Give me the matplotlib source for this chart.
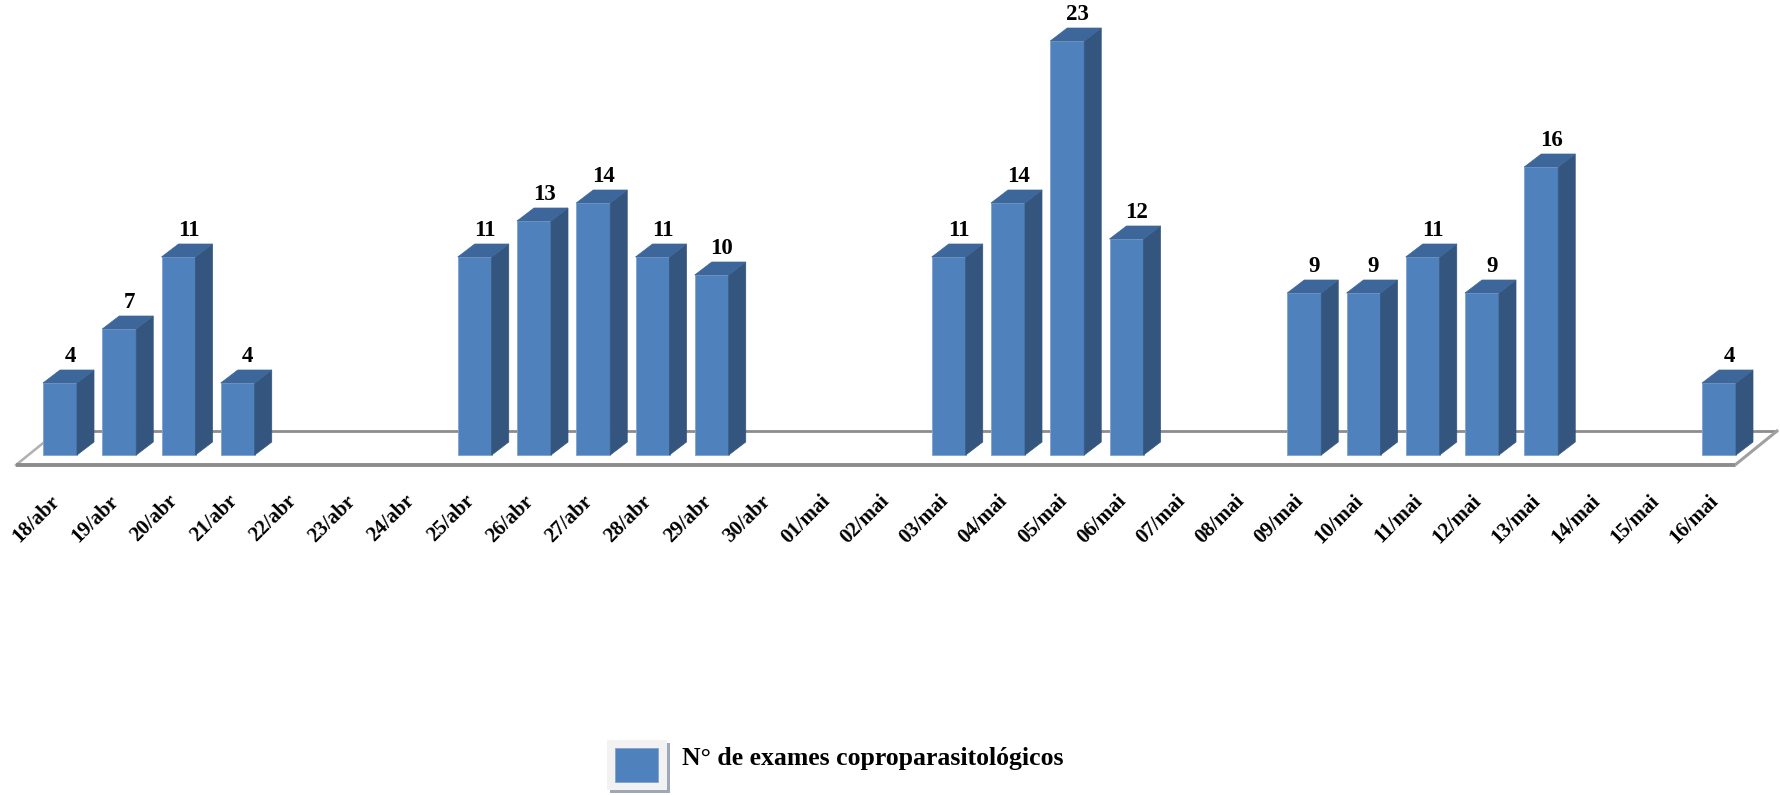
import matplotlib
matplotlib.use("Agg")
import matplotlib.pyplot as plt
from matplotlib.patches import Polygon, Rectangle
import numpy as np

# ---- data ----
categories = ["18/abr", "19/abr", "20/abr", "21/abr", "22/abr", "23/abr", "24/abr",
              "25/abr", "26/abr", "27/abr", "28/abr", "29/abr", "30/abr",
              "01/mai", "02/mai", "03/mai", "04/mai", "05/mai", "06/mai", "07/mai",
              "08/mai", "09/mai", "10/mai", "11/mai", "12/mai", "13/mai", "14/mai",
              "15/mai", "16/mai"]
exames = [4, 7, 11, 4, None, None, None,
          11, 13, 14, 11, 10, None,
          None, None, 11, 14, 23, 12, None,
          None, 9, 9, 11, 9, 16, None,
          None, 4]
legend_label = "N° de exames coproparasitológicos"

# ---- style ----
FRONT = "#4F81BD"
SIDE = "#34567E"
TOP = "#3D679A"
FLOOR = "#8C8C8C"
SERIF = ["Liberation Serif", "DejaVu Serif"]

W, H = 1780, 795
fig = plt.figure(figsize=(W / 100, H / 100), dpi=100)
ax = fig.add_axes([0, 0, 1, 1])
ax.axis("off")

# axis scales (pixel geometry of the reference)
px_per_cat = 59.25
px_per_unit = 18.0
x0_px, y0_px = 60.0, 455.0
ax.set_xlim(-x0_px / px_per_cat, (W - x0_px) / px_per_cat)
ax.set_ylim(-(H - y0_px) / px_per_unit, y0_px / px_per_unit)

bar_w = 34 / px_per_cat
ddx = 17 / px_per_cat
ddy = 13 / px_per_unit

n = len(categories)
xs = np.arange(n)
vals = np.array([np.nan if v is None else v for v in exames], dtype=float)

# floor (3D plane)
f_front = -10 / px_per_unit
f_back = 24 / px_per_unit
f_left = (16 - x0_px) / px_per_cat
f_right = (1735 - x0_px) / px_per_cat
f_dx = 42 / px_per_cat
ax.plot([f_left + f_dx, f_right + f_dx], [f_back, f_back], color=FLOOR, lw=2.0,
        zorder=1, solid_capstyle="butt")
ax.plot([f_left, f_left + f_dx], [f_front, f_back], color="#B0B0B0", lw=1.8, zorder=1)
ax.plot([f_right, f_right + f_dx], [f_front, f_back], color="#A0A0A0", lw=2.2, zorder=1)
ax.plot([f_left, f_right], [f_front, f_front], color=FLOOR, lw=2.8, zorder=3,
        solid_capstyle="butt")

# bars (front faces)
mask = ~np.isnan(vals)
ax.bar(xs[mask], vals[mask], width=bar_w, color=FRONT, edgecolor="#7FA3CF",
       linewidth=0.6, zorder=2, label=legend_label)

# 3D side and top faces + value labels
for i, v in zip(xs[mask], vals[mask]):
    l, r = i - bar_w / 2, i + bar_w / 2
    side = Polygon([(r, 0), (r + ddx, ddy), (r + ddx, v + ddy), (r, v)],
                   closed=True, facecolor=SIDE, edgecolor=SIDE, lw=0.5, zorder=2)
    top = Polygon([(l, v), (r, v), (r + ddx, v + ddy), (l + ddx, v + ddy)],
                  closed=True, facecolor=TOP, edgecolor=TOP, lw=0.5, zorder=2)
    ax.add_patch(side)
    ax.add_patch(top)
    ax.text(i + 0.17, v + ddy + 0.45, f"{int(v)}", ha="center", va="baseline",
            fontsize=16.5, fontweight="bold", family=SERIF, zorder=4)

# category labels
for i, c in zip(xs, categories):
    ax.text(i - 0.18, -2.0, c, rotation=45, ha="right", va="top",
            rotation_mode="anchor", fontsize=15, fontweight="bold", family=SERIF)

# legend (drawn in figure pixels)
def fx(px):
    return px / W

def fy(py):
    return 1 - py / H

fig.patches.append(Rectangle((fx(610), fy(793)), fx(670) - fx(610), fy(743) - fy(793),
                             transform=fig.transFigure, facecolor="#9FA8B8",
                             edgecolor="none", zorder=1))
fig.patches.append(Rectangle((fx(607), fy(790)), fx(667) - fx(607), fy(740) - fy(790),
                             transform=fig.transFigure, facecolor="#F2F2F2",
                             edgecolor="none", zorder=2))
fig.patches.append(Rectangle((fx(615), fy(782)), fx(658) - fx(615), fy(748) - fy(782),
                             transform=fig.transFigure, facecolor=FRONT,
                             edgecolor="#7FA3CF", lw=0.6, zorder=3))
fig.text(fx(682), fy(765), legend_label, ha="left", va="baseline", fontsize=18.5,
         fontweight="bold", family=SERIF)

fig.savefig("out.png", dpi=100)
